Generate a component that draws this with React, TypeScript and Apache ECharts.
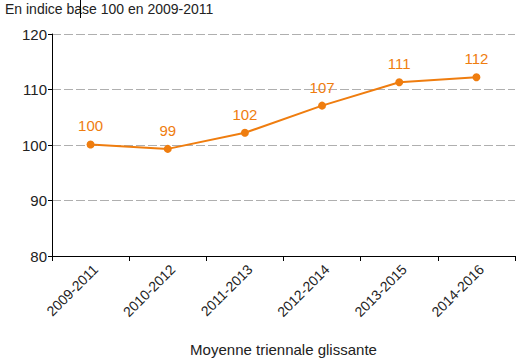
import React, { useEffect, useRef } from "react";
import * as echarts from "echarts";

const categories = ["2009-2011", "2010-2012", "2011-2013", "2012-2014", "2013-2015", "2014-2016"];
const values = [100.1, 99.3, 102.2, 107.1, 111.3, 112.2];
const labels = ["100", "99", "102", "107", "111", "112"];
const yTicks = [80, 90, 100, 110, 120];

const ORANGE = "#EF7D0F";
const FONT = "'Liberation Sans', Arial, sans-serif";

export default function App() {
  const ref = useRef<HTMLDivElement>(null);
  useEffect(() => {
    const chart = echarts.init(ref.current!, null, { renderer: "svg" });
    chart.setOption({
      animation: false,
      textStyle: { fontFamily: FONT },
      grid: { left: 52, right: 9, top: 34, bottom: 103, containLabel: false },
      graphic: [
        {
          type: "text",
          left: 5,
          top: 2,
          style: { text: "En indice base 100 en 2009-2011", fontSize: 14, fill: "#222", fontFamily: FONT },
        },
        {
          type: "line",
          shape: { x1: 80.5, y1: 0, x2: 80.5, y2: 18 },
          style: { stroke: "#000", lineWidth: 1 },
        },
      ],
      xAxis: {
        type: "category",
        data: categories,
        boundaryGap: true,
        name: "Moyenne triennale glissante",
        nameLocation: "middle",
        nameGap: 86,
        nameTextStyle: { fontSize: 15, color: "#222", fontFamily: FONT },
        axisLine: { lineStyle: { color: "#000", width: 1 } },
        axisTick: { show: true, length: 5, lineStyle: { color: "#000" } },
        axisLabel: {
          rotate: 45,
          fontSize: 14,
          color: "#222",
          margin: 6,
          align: "right",
          verticalAlign: "top",
          fontFamily: FONT,
        },
        splitLine: { show: false },
      },
      yAxis: {
        type: "value",
        min: yTicks[0],
        max: yTicks[yTicks.length - 1],
        interval: 10,
        axisLine: { show: true, lineStyle: { color: "#000", width: 1 } },
        axisTick: { show: true, length: 4, lineStyle: { color: "#000" } },
        axisLabel: { fontSize: 15, color: "#222", margin: 5, fontFamily: FONT },
        splitLine: {
          show: true,
          lineStyle: { color: "#AFAFAF", type: [9, 3], width: 1 },
        },
      },
      series: [
        {
          type: "line",
          data: values,
          symbol: "circle",
          symbolSize: 8,
          itemStyle: { color: ORANGE },
          lineStyle: { color: ORANGE, width: 2 },
          label: {
            show: true,
            position: "top",
            distance: 7,
            color: ORANGE,
            fontSize: 15,
            fontFamily: FONT,
            formatter: (p: any) => labels[p.dataIndex],
          },
        },
      ],
    });
    return () => chart.dispose();
  }, []);
  return <div ref={ref} style={{ width: 524, height: 362, position: "absolute", left: 0, top: 0 }} />;
}
